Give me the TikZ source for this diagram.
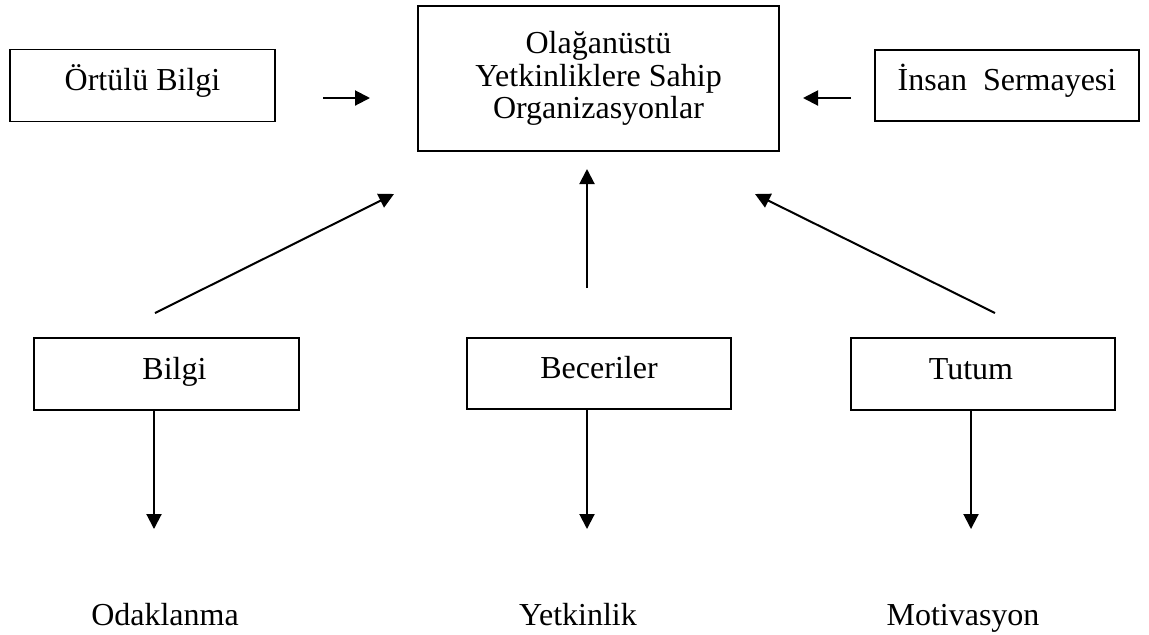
\documentclass[tikz,border=0pt]{standalone}
\usepackage{fontspec}
\setmainfont{Liberation Serif}
\usetikzlibrary{arrows.meta}

\begin{document}
\begin{tikzpicture}[x=0.5pt,y=-0.5pt,
  box/.style={draw=black,line width=0.9pt,inner sep=0pt,align=center},
  onebox/.style={box,text height=9.5pt,text depth=4.5pt},
  conn/.style={line width=1pt,-{Triangle[length=7.5pt,width=7.5pt]}},
  every node/.append style={font=\fontsize{16}{16.25}\selectfont}]
\useasboundingbox (0,0) rectangle (1149,634);
% boxes
\node [onebox,minimum width=132.5pt,minimum height=36pt] (ortulu) at (142.5,85.5) {Örtülü Bilgi};
\node [box,minimum width=180.5pt,minimum height=72.5pt] (org) at (598.5,78.5) {Olağanüstü\\Yetkinliklere Sahip\\Organizasyonlar};
\node [onebox,minimum width=132pt,minimum height=35.5pt] (insan) at (1007,85.5) {İnsan~~Sermayesi};
\node [onebox,minimum width=132.5pt,minimum height=36pt] (bilgi) at (166.5,374) {\hspace*{8pt}Bilgi};
\node [onebox,minimum width=132pt,minimum height=35.5pt] (beceri) at (599,373.5) {Beceriler};
\node [onebox,minimum width=132pt,minimum height=36pt] (tutum) at (983,374) {Tutum\hspace*{12pt}};
% results
\node [anchor=base] (odak) at (165,625) {Odaklanma};
\node [anchor=base] (yetkin) at (578,625) {Yetkinlik};
\node [anchor=base] (motiv) at (963,625) {Motivasyon};
% arrow ends
\coordinate (ortA) at (323,98);
\coordinate (ortB) at (370,98);
\coordinate (insA) at (851,98);
\coordinate (insB) at (803,98);
\coordinate (bilA) at (155,313);
\coordinate (bilB) at (394,194);
\coordinate (becA) at (587,288);
\coordinate (becB) at (587,169);
\coordinate (tutA) at (995,313);
\coordinate (tutB) at (755,194);
\coordinate (odakB) at (154,529);
\coordinate (yetB) at (587,529);
\coordinate (motB) at (971,529);
% connectors
\draw [conn] (ortA) -- (ortB);
\draw [conn] (insA) -- (insB);
\draw [conn] (bilA) -- (bilB);
\draw [conn] (becA) -- (becB);
\draw [conn] (tutA) -- (tutB);
\draw [conn] (bilgi.south -| odakB) -- (odakB);
\draw [conn] (beceri.south -| yetB) -- (yetB);
\draw [conn] (tutum.south -| motB) -- (motB);
\end{tikzpicture}
\end{document}
